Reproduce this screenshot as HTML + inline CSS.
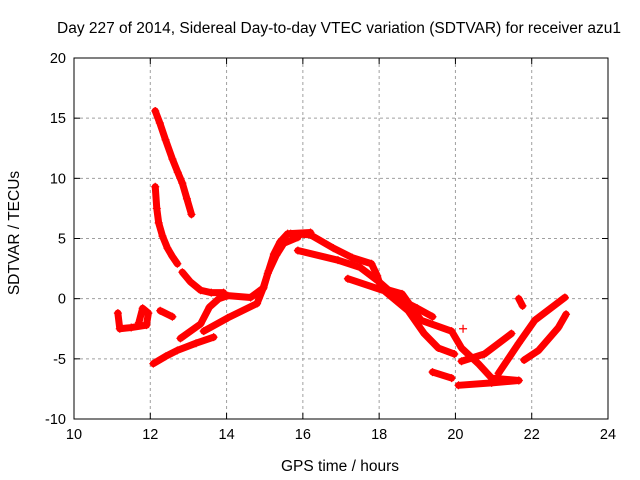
<!DOCTYPE html>
<html><head><meta charset="utf-8"><style>
body{margin:0;background:#fff}
svg{display:block;font-family:"Liberation Sans",sans-serif}
</style></head><body>
<svg id="chart" width="640" height="480" viewBox="0 0 640 480" xmlns="http://www.w3.org/2000/svg">
<rect width="640" height="480" fill="#fff"/>
<text x="339" y="33" font-size="15.5" text-anchor="middle">Day 227 of 2014, Sidereal Day-to-day VTEC variation (SDTVAR) for receiver azu1</text>
<text x="340" y="471" font-size="15.5" text-anchor="middle">GPS time / hours</text>
<text transform="translate(19,233) rotate(-90)" font-size="15.5" text-anchor="middle">SDTVAR / TECUs</text>
<g id="grid"></g>
<g id="ticks"></g>
<g id="marks"></g>
<rect x="74" y="58" width="534" height="361" fill="none" stroke="#000" stroke-width="1"/>
</svg>
<script>
const xTicks=[10,12,14,16,18,20,22,24];
const yTicks=[-10,-5,0,5,10,15,20];
const trackTop=[[12.13,15.6],[12.25,14.6],[12.4,13.2],[12.58,11.6],[12.72,10.5],[12.84,9.6],[12.96,8.3],[13.08,7.0]];
const trackMid=[[12.13,9.3],[12.17,7.5],[12.22,6.3],[12.32,5.2],[12.45,4.2],[12.58,3.5],[12.71,2.9]];
const trackMid2=[[12.84,2.2],[13.05,1.4],[13.32,0.7],[13.6,0.5],[13.92,0.5]];
const trackLow=[[12.08,-5.4],[12.4,-4.8],[12.71,-4.3],[13.2,-3.7],[13.66,-3.2]];
const trackRise=[[12.79,-3.3],[13.32,-2.1],[13.55,-0.7],[13.8,0.0],[14.03,0.25],[14.63,0.1],[14.97,0.9],[15.1,2.3],[15.24,3.7],[15.4,4.7],[15.6,5.4],[16.2,5.5]];
const trackRise2=[[13.4,-2.7],[14.03,-1.6],[14.8,-0.4],[14.95,0.8],[15.08,2.1],[15.3,3.6],[15.5,4.6],[15.87,5.1]];
const trackBlob=[[11.15,-1.2],[11.2,-2.5],[11.5,-2.4],[11.9,-2.2],[11.95,-1.2],[11.8,-0.8],[11.7,-2.0]];
const trackSmall=[[12.26,-1.0],[12.58,-1.5]];
const trackMain=[[15.68,5.4],[16.2,5.3],[16.8,4.2],[17.3,3.4],[17.8,2.9],[17.95,1.9],[18.05,0.9],[18.6,0.4],[19.1,-1.8],[19.9,-2.7],[20.16,-4.1],[20.6,-5.4],[20.95,-6.6],[21.66,-6.8]];
const trackB=[[17.18,1.66],[18.13,0.66],[18.76,-1.0],[19.18,-2.9],[19.55,-4.1],[19.97,-4.6]];
const trackC=[[15.87,4.0],[16.92,3.2],[17.5,2.6],[18.0,1.4],[18.5,0.0],[19.0,-0.8],[19.4,-1.5]];
const trackD=[[19.4,-6.1],[19.9,-6.6]];
const trackBottom=[[20.08,-7.2],[20.95,-7.0],[21.66,-6.8]];
const trackE=[[20.16,-5.2],[20.76,-4.6],[21.47,-2.9]];
const trackF=[[21.13,-6.2],[21.66,-3.7],[22.08,-1.8],[22.87,0.1]];
const trackG=[[21.8,-5.1],[22.18,-4.3],[22.7,-2.4],[22.9,-1.3]];
const trackH=[[21.66,0.0],[21.76,-0.6]];
const trackPoint=[[20.2,-2.5]];
const tracks=[trackTop,trackMid,trackMid2,trackLow,trackRise,trackRise2,trackBlob,trackSmall,trackMain,trackB,trackC,trackD,trackBottom,trackE,trackF,trackG,trackH,trackPoint];

const X0=74,X1=608,Y0=419,Y1=58;
function sx(v){return X0+(v-10)/(24-10)*(X1-X0);}
function sy(v){return Y0-(v+10)/(20+10)*(Y0-Y1);}
const NS="http://www.w3.org/2000/svg";
function mk(tag,attrs,parent){const e=document.createElementNS(NS,tag);for(const k in attrs)e.setAttribute(k,attrs[k]);parent.appendChild(e);return e;}
const grid=document.getElementById('grid'),ticks=document.getElementById('ticks'),marks=document.getElementById('marks');
xTicks.forEach(t=>{
  const x=sx(t);
  if(t>10&&t<24){const g=mk('line',{x1:x,x2:x,y1:Y1,y2:Y0,stroke:'#a0a0a0','stroke-dasharray':'3,3'},grid);
  
  }
  mk('line',{x1:x,x2:x,y1:Y0,y2:Y0-6,stroke:'#000'},ticks);
  mk('line',{x1:x,x2:x,y1:Y1,y2:Y1+6,stroke:'#000'},ticks);
  const tx=mk('text',{x:x,y:Y0+20,'font-size':14.5,'text-anchor':'middle'},ticks);
  tx.textContent=t;
  
  
});
yTicks.forEach(t=>{
  const y=sy(t);
  if(t>-10&&t<20){const g=mk('line',{x1:X0,x2:X1,y1:y,y2:y,stroke:'#a0a0a0','stroke-dasharray':'3,3'},grid);
  
  }
  mk('line',{x1:X0,x2:X0+6,y1:y,y2:y,stroke:'#000'},ticks);
  mk('line',{x1:X1,x2:X1-6,y1:y,y2:y,stroke:'#000'},ticks);
  const tx=mk('text',{x:X0-8,y:y+5,'font-size':14.5,'text-anchor':'end'},ticks);
  tx.textContent=t;
  
  
});
tracks.forEach(tr=>{
  const pts=tr.map(p=>sx(p[0])+','+sy(p[1])).join(' ');
  const pl=mk('polyline',{points:pts,fill:'none',stroke:'#f00','stroke-width':7,'stroke-linejoin':'round','stroke-linecap':'round'},marks);
  
  
  tr.forEach(p=>{
    const x=sx(p[0]),y=sy(p[1]);
    const m=mk('path',{d:`M${x-4},${y}H${x+4}M${x},${y-4}V${y+4}`,stroke:'#f00','stroke-width':1.2},marks);
    
    
  });
});
</script>
</body></html>
